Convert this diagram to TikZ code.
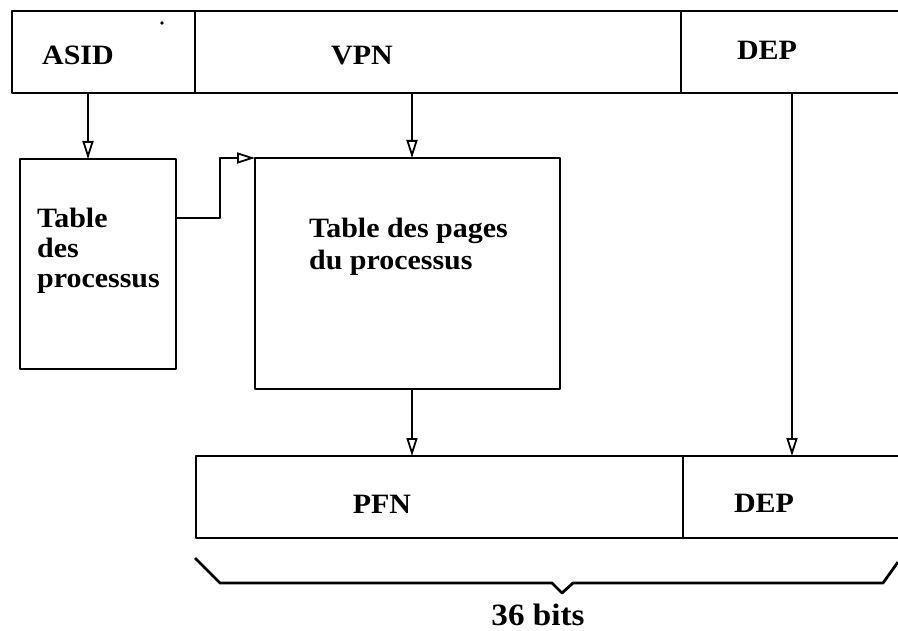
\documentclass[tikz,border=0pt]{standalone}
\usepackage{fontspec}
\setmainfont[FakeStretch=1.07]{Liberation Serif}
\usetikzlibrary{arrows.meta}
\begin{document}
\begin{tikzpicture}[x=1pt,y=-1pt,line width=2.2pt,line join=round,
  field/.style={draw,inner sep=0pt,outer sep=0pt,anchor=north west,minimum height=82pt},
  openfield/.style={inner sep=0pt,outer sep=0pt,anchor=north west,minimum height=82pt},
  tablebox/.style={draw,inner sep=0pt,outer sep=0pt,anchor=north west},
  lbl/.style={font=\fontsize{28}{32}\selectfont\bfseries,inner sep=0pt},
  arr/.style={-{Triangle[open,length=18pt,width=11pt,line width=1.8pt]},line width=2.2pt}]
\useasboundingbox (0,0) rectangle (898,631);
% top word
\node[field,minimum width=183pt] (asid) at (12,11) {};
\node[field,minimum width=486pt] (vpn) at (195,11) {};
\node[openfield,minimum width=217pt] (depT) at (681,11) {};
\draw (depT.north west) -- (depT.north east);
\draw (depT.south west) -- (depT.south east);
\node[lbl,anchor=base] (asidlbl) at (78,65) {ASID};
\node[lbl,anchor=base] (vpnlbl) at (362,65) {VPN};
\node[lbl,anchor=base] (deptlbl) at (767,60) {DEP};
\fill (162,23) circle (1.8pt);
% tables
\node[tablebox,minimum width=156pt,minimum height=210pt] (tp) at (20,159) {};
\node[lbl,anchor=west,align=left,font=\fontsize{28}{30}\selectfont\bfseries] (tplbl) at (36,251) {Table\\des\\processus};
\node[tablebox,minimum width=305pt,minimum height=231pt] (pt) at (255,158) {};
\node[lbl,anchor=west,align=left] (ptlbl) at (308,247) {Table des pages\\ du processus};
% bottom word
\node[field,minimum width=487pt] (pfn) at (196,456) {};
\node[openfield,minimum width=215pt] (depB) at (683,456) {};
\draw (depB.north west) -- (depB.north east);
\draw (depB.south west) -- (depB.south east);
\node[lbl,anchor=base] (pfnlbl) at (382,513) {PFN};
\node[lbl,anchor=base] (depblbl) at (764,512) {DEP};
% connectors
\draw[arr] ([xshift=76pt]asid.south west) -- ([xshift=68pt]tp.north west);
\draw[arr] ([xshift=217pt]vpn.south west) -- ([xshift=157pt]pt.north west);
\draw[arr] ([yshift=-59pt]tp.north east) -| ([xshift=-35pt]pt.north west) -- (pt.north west);
\draw[arr] ([xshift=157pt]pt.south west) -- ([xshift=216pt]pfn.north west);
\draw[arr] ([xshift=111pt]depT.south west) -- ([xshift=109pt]depB.north west);
% brace
\coordinate (bl) at (195,558);
\coordinate (br) at (898,562);
\draw[line width=2.8pt] (bl) -- (220,583) -- (552,583) -- (562,593) -- (573,583) -- (883,583) -- (br);
\node[lbl,anchor=base,font=\fontsize{31}{34}\selectfont\bfseries] (bits) at (538,625) {36 bits};
\end{tikzpicture}
\end{document}
